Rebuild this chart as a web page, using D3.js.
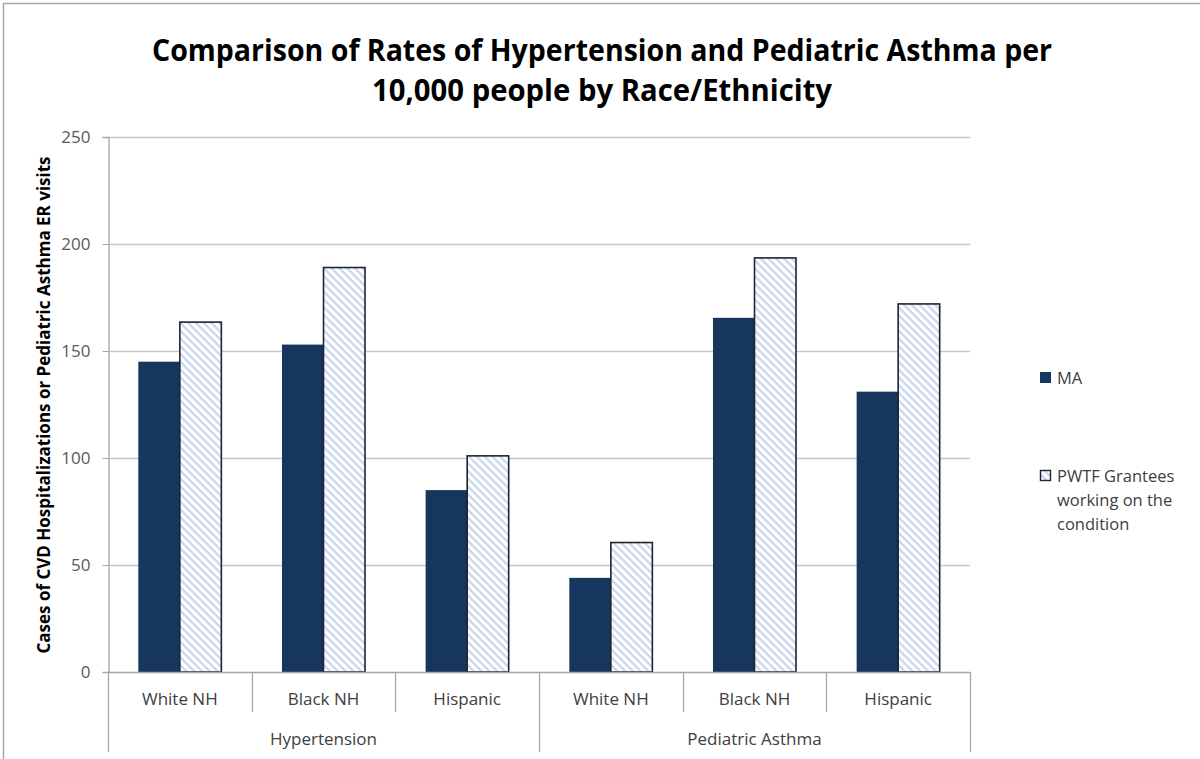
<!DOCTYPE html>
<html><head><meta charset="utf-8">
<script src="https://cdn.jsdelivr.net/npm/d3@7"></script>
<style>body{margin:0;background:#fff}</style>
</head><body>
<svg id="chart" width="1200" height="759"></svg>
<script>
const groups = ["Hypertension", "Pediatric Asthma"];
const races = ["White NH", "Black NH", "Hispanic"];
const series = ["MA", "PWTF Grantees working on the condition"];
const maValues = [145, 153, 85, 44, 165.5, 131];
const pwtfValues = [163.5, 189, 101, 60.5, 193.5, 172];
const yTicks = [0, 50, 100, 150, 200, 250];
const titleLines = ["Comparison of Rates of Hypertension and Pediatric Asthma per", "10,000 people by Race/Ethnicity"];
const yTitle = "Cases of CVD Hospitalizations or Pediatric Asthma ER visits";

(function () {
const svg = d3.select("#chart");
const font = "'Open Sans', sans-serif";
const pL = 108, pR = 970, pT = 137, pB = 672;

svg.append("rect").attr("x", 3.5).attr("y", 3.5).attr("width", 1210).attr("height", 800)
  .attr("fill", "none").attr("stroke", "#a6a6a6").attr("stroke-width", 1.5);

const defs = svg.append("defs");
const pat = defs.append("pattern").attr("id", "hatch").attr("patternUnits", "userSpaceOnUse")
  .attr("width", 5.5).attr("height", 5.5).attr("patternTransform", "rotate(45)");
pat.append("rect").attr("width", 5.5).attr("height", 5.5).attr("fill", "#ffffff");
pat.append("rect").attr("width", 5.5).attr("height", 2.3).attr("fill", "#c9d6ec");

const cats = [];
groups.forEach(g => races.forEach(r => cats.push(g + "|" + r)));
const x = d3.scaleBand().domain(cats).range([pL, pR]).padding(0);
const xs = d3.scaleBand().domain(series).range([0, x.bandwidth()]).paddingInner(0).paddingOuter(0.73);
const y = d3.scaleLinear().domain([0, 250]).range([pB, pT]);

svg.append("g").selectAll("line").data(yTicks.filter(d => d > 0)).join("line")
  .attr("x1", pL).attr("x2", pR).attr("y1", d => Math.round(y(d)) + 0.5).attr("y2", d => Math.round(y(d)) + 0.5)
  .attr("stroke", "#c8c8c8").attr("stroke-width", 1.3);

const yAxis = svg.append("g").attr("transform", `translate(${pL + 0.5},0)`)
  .call(d3.axisLeft(y).tickValues(yTicks).tickSize(6).tickPadding(12));
yAxis.select(".domain").attr("stroke", "#a6a6a6").attr("stroke-width", 1.3);
yAxis.selectAll(".tick line").attr("stroke", "#a6a6a6");
yAxis.selectAll(".tick text").attr("fill", "#595959").style("font-family", font).style("font-size", "17px");

const data = cats.map((c, i) => ({ c, vals: [maValues[i], pwtfValues[i]] }));
const cg = svg.append("g").selectAll("g").data(data).join("g").attr("transform", d => `translate(${x(d.c)},0)`);
cg.selectAll("rect").data(d => d.vals.map((v, k) => ({ s: series[k], v }))).join("rect")
  .attr("x", d => xs(d.s)).attr("width", xs.bandwidth())
  .attr("y", d => y(d.v)).attr("height", d => y(0) - y(d.v))
  .attr("fill", d => d.s === series[0] ? "#17365d" : "url(#hatch)")
  .attr("stroke", d => d.s === series[0] ? "none" : "#1c2530")
  .attr("stroke-width", 1.6);

svg.append("line").attr("x1", pL).attr("x2", pR).attr("y1", pB + 0.5).attr("y2", pB + 0.5)
  .attr("stroke", "#a6a6a6").attr("stroke-width", 1.3);
const sepX = cats.map(c => x(c)).concat([pR]);
svg.append("g").selectAll("line").data(sepX).join("line")
  .attr("x1", d => Math.round(d) + 0.5).attr("x2", d => Math.round(d) + 0.5)
  .attr("y1", pB).attr("y2", (d, i) => (i % 3 === 0) ? 752 : 712)
  .attr("stroke", "#a6a6a6").attr("stroke-width", 1.3);
svg.append("g").selectAll("text").data(cats).join("text")
  .attr("x", d => x(d) + x.bandwidth() / 2).attr("y", 705)
  .attr("text-anchor", "middle").attr("fill", "#404040")
  .style("font-family", font).style("font-size", "17px")
  .text(d => d.split("|")[1]);
svg.append("g").selectAll("text").data(groups).join("text")
  .attr("x", (g, i) => (x(cats[i * 3]) + x(cats[i * 3 + 2]) + x.bandwidth()) / 2).attr("y", 745)
  .attr("text-anchor", "middle").attr("fill", "#404040")
  .style("font-family", font).style("font-size", "17px")
  .text(d => d);

const titleW = [900, 460];
svg.append("g").selectAll("text").data(titleLines).join("text")
  .attr("x", 602).attr("y", (d, i) => 61 + i * 40)
  .attr("text-anchor", "middle").attr("fill", "#000")
  .attr("textLength", (d, i) => titleW[i]).attr("lengthAdjust", "spacingAndGlyphs")
  .style("font-family", font).style("font-weight", "bold").style("font-size", "31px")
  .text(d => d);

svg.append("text").attr("transform", "translate(50,405) rotate(-90)")
  .attr("text-anchor", "middle").attr("fill", "#000")
  .style("font-family", font).style("font-weight", "bold").style("font-size", "17px")
  .text(yTitle);

const lg = svg.append("g");
lg.append("rect").attr("x", 1040).attr("y", 372).attr("width", 11).attr("height", 11).attr("fill", "#17365d");
lg.append("text").attr("x", 1057).attr("y", 384).attr("fill", "#404040")
  .style("font-family", font).style("font-size", "16.5px").text(series[0]);
lg.append("rect").attr("x", 1040.5).attr("y", 470.5).attr("width", 10).attr("height", 10)
  .attr("fill", "url(#hatch)").attr("stroke", "#1c2530").attr("stroke-width", 1.4);
const words = ["PWTF Grantees", "working on the", "condition"];
lg.append("text").attr("fill", "#404040").style("font-family", font).style("font-size", "16.5px")
  .selectAll("tspan").data(words).join("tspan")
  .attr("x", 1057).attr("y", (d, i) => 482 + i * 24).text(d => d);
})();
</script>
</body></html>
